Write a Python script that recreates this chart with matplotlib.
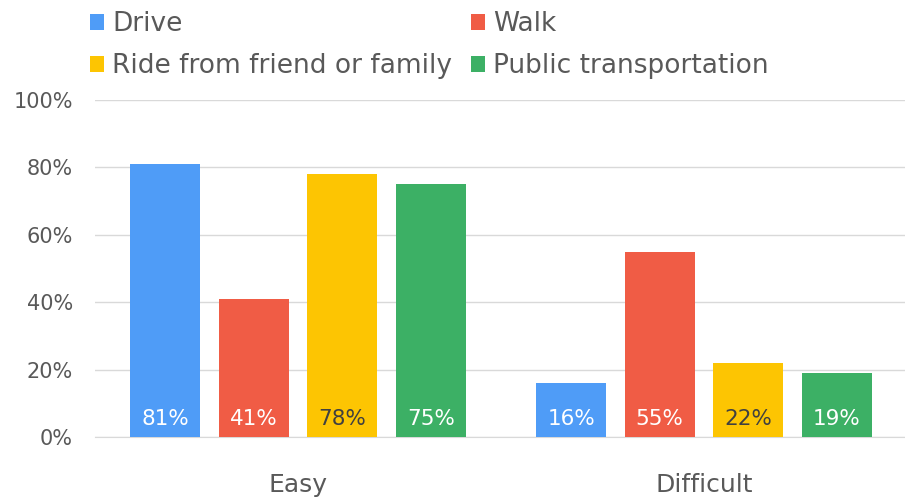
import numpy as np
import matplotlib
matplotlib.use("Agg")
import matplotlib.pyplot as plt
from matplotlib.patches import Patch

# 数据
categories = ["Easy", "Difficult"]
series = ["Drive", "Walk", "Ride from friend or family", "Public transportation"]
colors = ["#4f9cf7", "#f05c45", "#fdc502", "#3cb065"]
label_colors = ["white", "white", "#404040", "white"]
drive = [0.81, 0.16]
walk = [0.41, 0.55]
ride = [0.78, 0.22]
public = [0.75, 0.19]
yticks = [0, 0.2, 0.4, 0.6, 0.8, 1.0]
ytick_labels = ["0%", "20%", "40%", "60%", "80%", "100%"]

values = [drive, walk, ride, public]

plt.rcParams['font.family'] = ['DejaVu Sans']
text_color = "#595959"

fig = plt.figure(figsize=(9.05, 5.03), dpi=100)
ax = fig.add_axes([95 / 905, 1 - 437 / 503, 812 / 905, 337 / 503])

x = np.arange(len(categories))
width = 0.172
step = 0.218

for i, (name, vals) in enumerate(zip(series, values)):
    pos = x + (i - 1.5) * step
    ax.bar(pos, vals, width, color=colors[i], zorder=3)
    for p, v in zip(pos, vals):
        ax.text(p, 0.053, f"{round(v * 100):d}%", ha="center", va="center",
                fontsize=15.5, color=label_colors[i], zorder=4)

ax.set_xlim(-0.5, 1.5)
ax.set_ylim(0, 1)
ax.set_yticks(yticks)
ax.set_yticklabels(ytick_labels)
ax.set_xticks(x)
ax.set_xticklabels(categories)
ax.tick_params(axis="y", length=0, pad=16, labelsize=15, labelcolor=text_color)
ax.tick_params(axis="x", length=0, pad=26, labelsize=18, labelcolor=text_color)
ax.grid(axis="y", color="#d9d9d9", linewidth=1, zorder=0)
for s in ["top", "right", "left"]:
    ax.spines[s].set_visible(False)
ax.spines["bottom"].set_color("#d9d9d9")

# 图例按行排列：Drive, Walk / Ride, Public
order = [0, 2, 1, 3]
handles = [Patch(facecolor=colors[k], label=series[k]) for k in order]
fig.legend(handles=handles, ncol=2, loc="upper left",
           bbox_to_anchor=(66 / 905, 1.025), frameon=False,
           fontsize=19, labelcolor=text_color,
           handlelength=0.55, handleheight=0.55, handletextpad=0.3,
           columnspacing=0.7, labelspacing=0.6)

fig.savefig("out.png", dpi=100)
